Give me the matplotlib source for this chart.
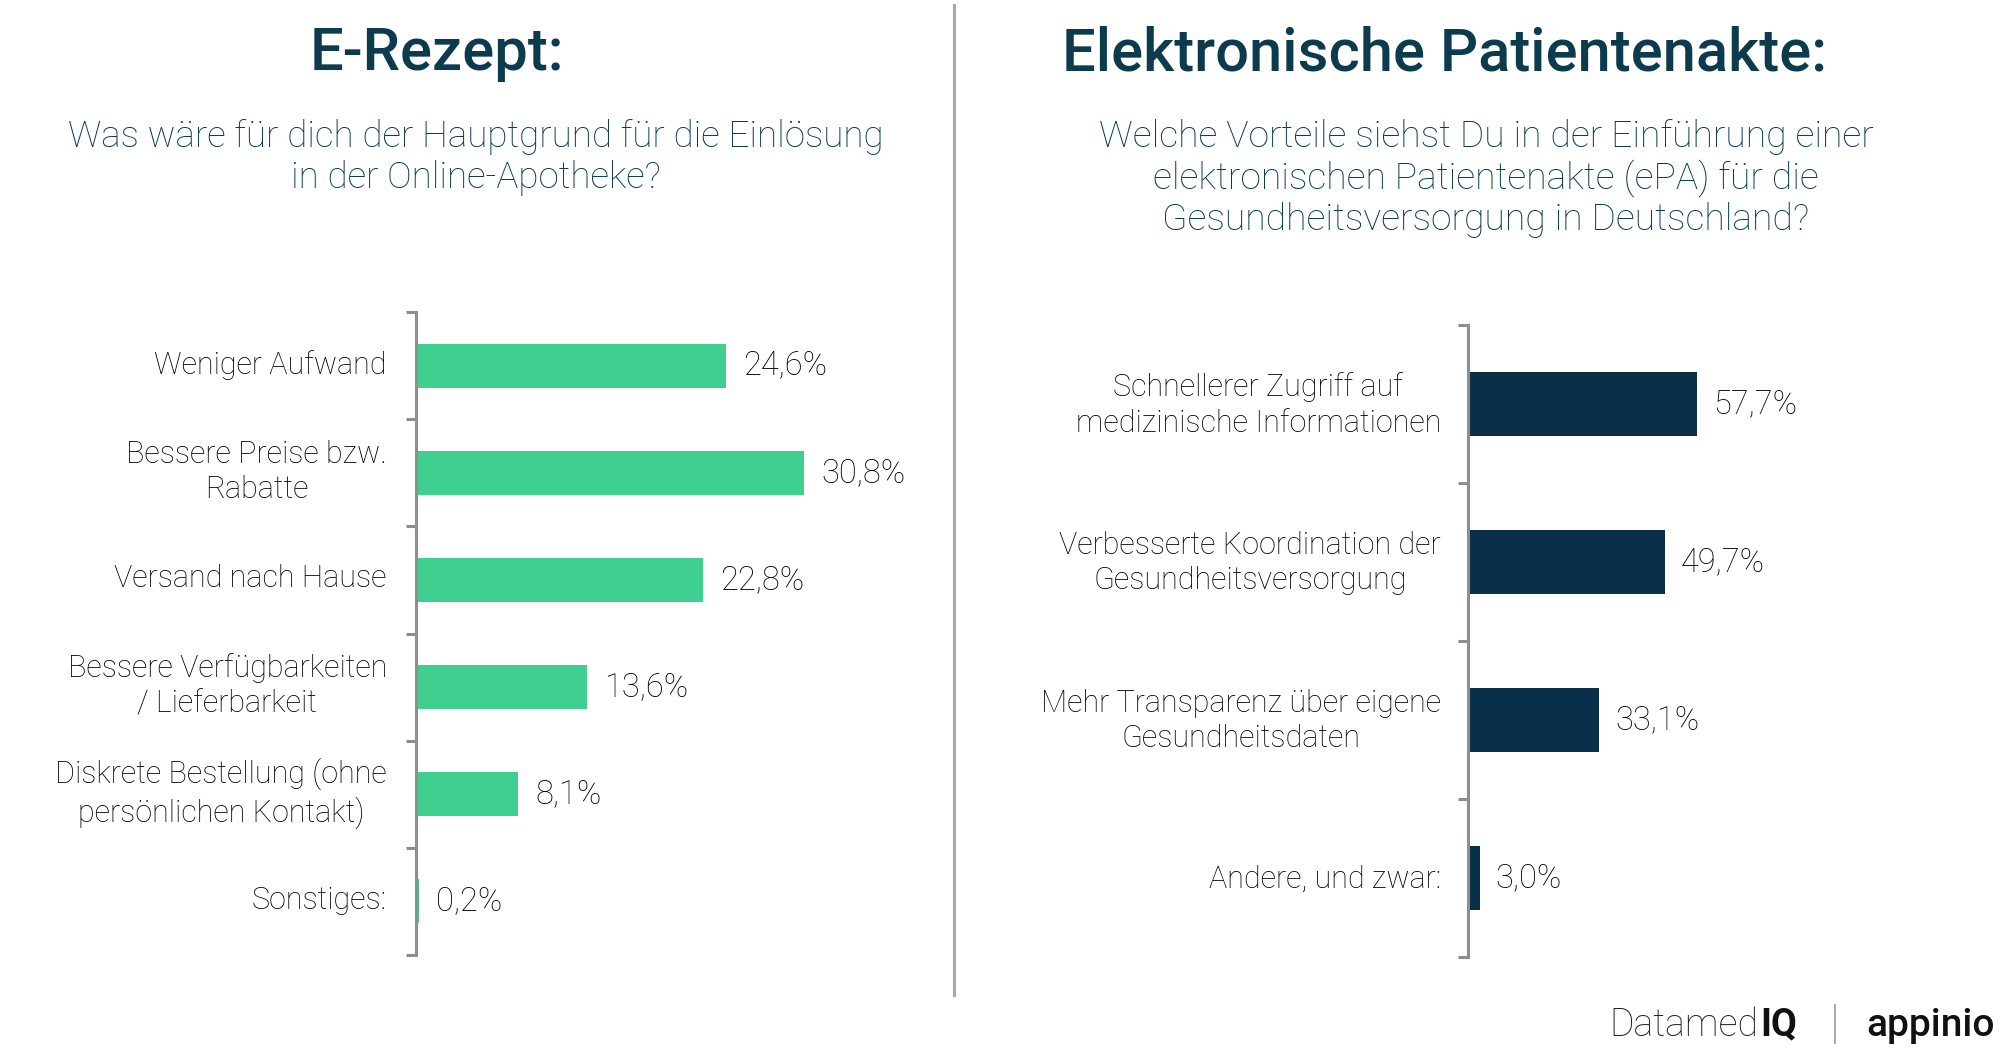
import matplotlib
matplotlib.use("Agg")
import matplotlib.pyplot as plt
import numpy as np

# Data
left_categories = ["Weniger Aufwand", "Bessere Preise bzw.\nRabatte", "Versand nach Hause",
                   "Bessere Verfügbarkeiten\n/ Lieferbarkeit", "Diskrete Bestellung (ohne\npersönlichen Kontakt)",
                   "Sonstiges:"]
left_values = [24.6, 30.8, 22.8, 13.6, 8.1, 0.2]
left_labels = ["24,6%", "30,8%", "22,8%", "13,6%", "8,1%", "0,2%"]

right_categories = ["Schnellerer Zugriff auf\nmedizinische Informationen",
                    "Verbesserte Koordination der\nGesundheitsversorgung",
                    "Mehr Transparenz über eigene\nGesundheitsdaten",
                    "Andere, und zwar:"]
right_values = [57.7, 49.7, 33.1, 3.0]
right_labels = ["57,7%", "49,7%", "33,1%", "3,0%"]

GREEN = "#3FD08F"
NAVY = "#0A3049"
TITLE = "#0B3B4D"
SUB = "#073A4E"
GRAY = "#8E8E8E"
TXT = "#000000"

plt.rcParams['font.family'] = ['Roboto', 'DejaVu Sans']

W, H = 2000, 1049
fig = plt.figure(figsize=(W / 100, H / 100), dpi=100)


def ax_rect(x0, y0, x1, y1):
    return [x0 / W, 1 - y1 / H, (x1 - x0) / W, (y1 - y0) / H]


def draw(ax, cats, vals, labs, color, xmax, off, barw, pad_px, dy):
    n = len(cats)
    y = np.arange(n)
    ax.barh(y, vals, height=barw, color=color)
    ax.set_ylim(n - 0.5, -0.5)
    ax.set_xlim(0, xmax)
    for sp in ["top", "right", "bottom"]:
        ax.spines[sp].set_visible(False)
    ax.spines["left"].set_color(GRAY)
    ax.spines["left"].set_linewidth(2.2)
    ax.set_xticks([])
    ax.set_yticks(np.arange(n + 1) - 0.5)
    ax.set_yticklabels([])
    ax.tick_params(axis='y', which='major', length=7, width=2.2, color=GRAY)
    for yi, c in zip(y, cats):
        ax.annotate(c, xy=(0, yi), xycoords=('axes fraction', 'data'),
                    xytext=(-pad_px, dy), textcoords='offset pixels',
                    ha='right', va='center', multialignment='center',
                    fontsize=22, color=TXT, fontweight='light', linespacing=1.28)
    for yi, v, l in zip(y, vals, labs):
        ax.text(v + off, yi, l, va='center', ha='left', fontsize=23.5, color=TXT, fontweight='light')
    ax.patch.set_alpha(0)


axL = fig.add_axes(ax_rect(416, 312, 920, 955))
draw(axL, left_categories, left_values, left_labels, GREEN, 40, 1.35, 0.41, 29, 1)

axR = fig.add_axes(ax_rect(1468, 325, 1944, 957))
draw(axR, right_categories, right_values, right_labels, NAVY, 120, 4.0, 0.40, 27, -1)

# Titles
fig.text(437 / W, 1 - 54 / H, "E-Rezept:", ha='center', va='center', fontsize=43,
         fontweight='medium', color=TITLE)
fig.text(1445 / W, 1 - 54 / H, "Elektronische Patientenakte:", ha='center', va='center', fontsize=43,
         fontweight='medium', color=TITLE)
for i, line in enumerate(["Was wäre für dich der Hauptgrund für die Einlösung", "in der Online-Apotheke?"]):
    fig.text(476 / W, 1 - (137 + 41 * i) / H, line, ha='center', va='center', fontsize=26.5,
             color=SUB, fontweight='light')
for i, line in enumerate(["Welche Vorteile siehst Du in der Einführung einer",
                          "elektronischen Patientenakte (ePA) für die",
                          "Gesundheitsversorgung in Deutschland?"]):
    fig.text(1486 / W, 1 - (137 + 41.5 * i) / H, line, ha='center', va='center', fontsize=26.8,
             color=SUB, fontweight='light')

# Separator line
fig.add_artist(plt.Line2D([954 / W, 954 / W], [1 - 5 / H, 1 - 995 / H], color="#A8A8A8", lw=2.2))

# Logos as text
fig.text(1758 / W, 1 - 1025 / H, "Datamed", ha='right', va='center', fontsize=27, color="#222222",
         fontweight='light')
fig.text(1760 / W, 1 - 1025 / H, "IQ", ha='left', va='center', fontsize=27, color="#111111",
         fontweight='bold')
fig.add_artist(plt.Line2D([1835 / W, 1835 / W], [1 - 1005 / H, 1 - 1043 / H], color="#999999", lw=1.2))
fig.text(1930 / W, 1 - 1025 / H, "appinio", ha='center', va='center', fontsize=28, color="#111111",
         fontweight='medium')

fig.savefig("out.png", dpi=100, facecolor="white")
